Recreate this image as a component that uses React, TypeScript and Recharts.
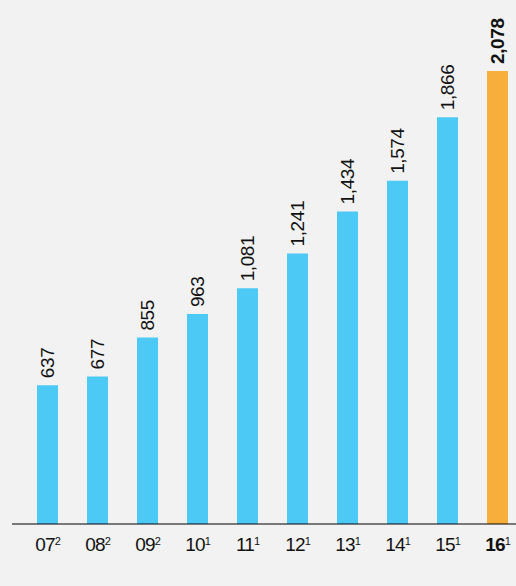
import { Bar, BarChart, Cell, LabelList, XAxis, YAxis } from "recharts";

const years = ["07", "08", "09", "10", "11", "12", "13", "14", "15", "16"];
const notes = ["2", "2", "2", "1", "1", "1", "1", "1", "1", "1"];
const values = [637, 677, 855, 963, 1081, 1241, 1434, 1574, 1866, 2078];

const BLUE = "#4ccaf5";
const ORANGE = "#f7ae3b";
const FONT = "'Liberation Sans', Arial, Helvetica, sans-serif";

const data = years.map((y, i) => ({ year: y, note: notes[i], value: values[i] }));
const last = data.length - 1;

function YearTick(props: any) {
  const { x, y, payload, index } = props;
  const bold = index === last;
  return (
    <text
      x={x + 1}
      y={y + 27}
      textAnchor="middle"
      fontFamily={FONT}
      fontSize={19}
      letterSpacing={-0.8}
      fontWeight={bold ? 700 : 400}
      fill="#111"
    >
      {payload.value}
      <tspan fontSize={11} fontWeight={400} dy={-6} letterSpacing={0}>
        {notes[index]}
      </tspan>
    </text>
  );
}

function ValueLabel(props: any) {
  const { x, y, width, value, index } = props;
  const cx = x + width / 2;
  const ly = y - 7;
  return (
    <text
      x={cx}
      y={ly}
      transform={`rotate(-90, ${cx}, ${ly})`}
      textAnchor="start"
      dominantBaseline="central"
      fontFamily={FONT}
      fontSize={19}
      letterSpacing={-0.4}
      fontWeight={index === last ? 700 : 400}
      fill="#111"
    >
      {value.toLocaleString("en-US")}
    </text>
  );
}

export default function App() {
  return (
    <div style={{ width: 516, height: 586, overflow: "hidden", background: "#f2f2f2" }}>
      <style>{`html,body{margin:0;padding:0;background:#f2f2f2;}`}</style>
      <BarChart
        width={522}
        height={586}
        data={data}
        margin={{ top: 71, right: 0, left: 12, bottom: 0 }}
      >
        <XAxis
          dataKey="year"
          height={62}
          padding={{ left: 10, right: 0 }}
          axisLine={{ stroke: "#000", strokeWidth: 1 }}
          tickLine={false}
          tickSize={0}
          tickMargin={0}
          interval={0}
          tick={<YearTick />}
        />
        <YAxis hide domain={[0, 2078]} />
        <Bar dataKey="value" barSize={21} isAnimationActive={false}>
          {data.map((d, i) => (
            <Cell key={d.year} fill={i === last ? ORANGE : BLUE} />
          ))}
          <LabelList dataKey="value" content={<ValueLabel />} />
        </Bar>
      </BarChart>
    </div>
  );
}
